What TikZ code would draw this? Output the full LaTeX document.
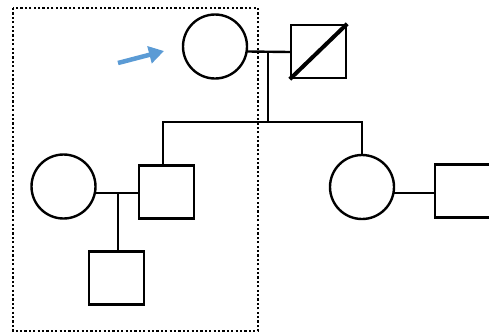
\documentclass[tikz,border=0pt]{standalone}
\usetikzlibrary{arrows.meta}
\definecolor{arrowblue}{HTML}{5B9BD5}
\tikzset{
  x=1pt, y=-1pt,
  line/.style={draw=black, line width=2.4pt},
  female/.style={circle, line, minimum size=64pt, inner sep=0pt},
  male/.style={rectangle, line, minimum width=55pt, minimum height=53pt, inner sep=0pt},
  kin/.style={line width=2.4pt, line cap=rect},
  probe/.style={draw=arrowblue, line width=4.5pt, -{Triangle[length=15pt,width=17pt]}},
  frame/.style={draw=black, line width=2.6pt, dash pattern=on 2.2pt off 2.2pt}
}
\begin{document}
\begin{tikzpicture}
\useasboundingbox (0,0) rectangle (489,333);
\begin{scope}
\clip (0,0) rectangle (489,333);
% frame
\draw[frame] (13,8) rectangle (258,331);
% people
\node[female] (tc) at (215,46.5) {};
\node[male] (ts) at (318.5,51.5) {};
\draw[line width=4pt] (ts.south west) -- (ts.north east);
\node[male] (lc) at (166.5,192) {};
\node[female] (lw) at (63.5,186.5) {};
\node[male] (gc) at (116.5,278) {};
\node[female] (rc) at (362,187) {};
\node[male] (rs) at (462.5,191) {};
% connectors
\coordinate (m1) at (268,52);
\coordinate (sl) at (163,122);
\coordinate (sr) at (362,122);
\coordinate (m2) at (118,193);
\draw[kin] (ts.west |- m1) -- (ts.west -| tc.east);
\draw[kin] (m1) -- (m1 |- sl);
\draw[kin] (sl |- lc.north) -- (sl) -- (sr) -- (rc.north);
\draw[kin] (lc.west |- m2) -- (m2 -| lw.east);
\draw[kin] (m2) -- (m2 |- gc.north);
\draw[kin] (rs.west |- 0,193) -- (rc.east |- 0,193);
% arrow
\coordinate (a0) at (118,63);
\coordinate (a1) at (164,51);
\draw[probe] (a0) -- (a1);
\end{scope}
\end{tikzpicture}
\end{document}
